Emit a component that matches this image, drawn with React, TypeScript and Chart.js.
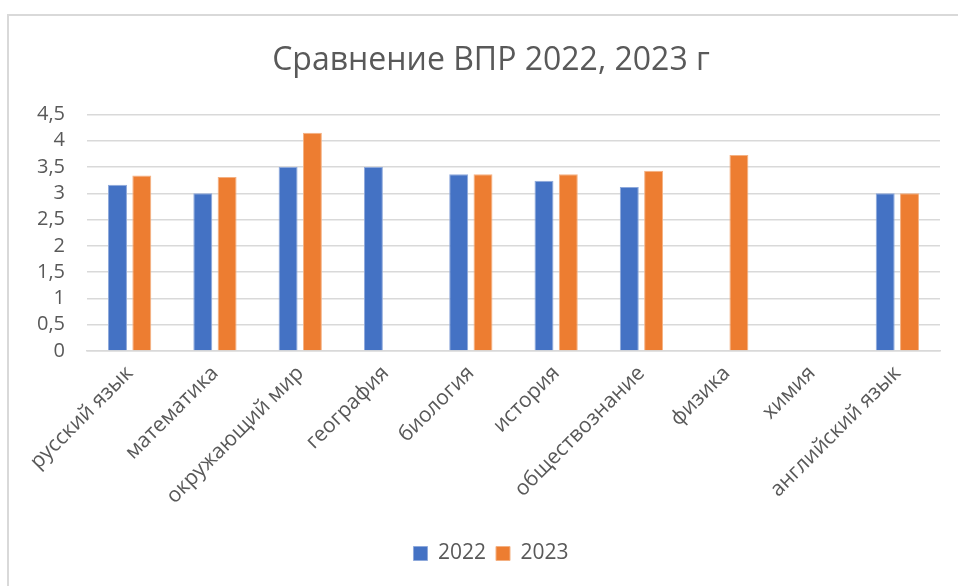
import React, { useEffect, useRef } from "react";
import { Chart, registerables } from "chart.js";

Chart.register(...registerables);

const categories = [
  "русский язык",
  "математика",
  "окружающий мир",
  "география",
  "биология",
  "история",
  "обществознание",
  "физика",
  "химия",
  "английский язык",
];
const values2022: (number | null)[] = [3.16, 3.0, 3.5, 3.5, 3.36, 3.24, 3.12, null, null, 3.0];
const values2023: (number | null)[] = [3.34, 3.31, 4.15, null, 3.36, 3.36, 3.43, 3.73, null, 3.0];
const titleText = "Сравнение ВПР 2022, 2023 г";

const FONT = "'Open Sans', 'DejaVu Sans', sans-serif";
const TEXT = "#595959";
const GRID = "#D9D9D9";

export default function App() {
  const ref = useRef<HTMLCanvasElement | null>(null);
  useEffect(() => {
    if (!ref.current) return;
    const chart = new Chart(ref.current, {
      type: "bar",
      data: {
        labels: categories,
        datasets: [
          {
            label: "2022",
            data: values2022,
            backgroundColor: "#4472C4",
            borderColor: "#8EA9DB",
            borderWidth: 1,
            categoryPercentage: 0.57,
            barPercentage: 0.78,
          },
          {
            label: "2023",
            data: values2023,
            backgroundColor: "#ED7D31",
            borderColor: "#F4B183",
            borderWidth: 1,
            categoryPercentage: 0.57,
            barPercentage: 0.78,
          },
        ],
      },
      options: {
        animation: false,
        responsive: false,
        maintainAspectRatio: false,
        layout: { padding: { left: 0, right: 2, top: 0, bottom: 12 } },
        plugins: {
          title: {
            display: true,
            text: titleText,
            color: TEXT,
            font: { family: FONT, size: 32, weight: "normal" },
            padding: { top: 42, bottom: 34 },
          },
          legend: {
            position: "bottom",
            labels: {
              color: TEXT,
              font: { family: FONT, size: 21 },
              boxWidth: 14,
              boxHeight: 14,
              padding: 10,
            },
          },
          tooltip: { enabled: false },
        },
        scales: {
          x: {
            grid: { display: false, drawTicks: false },
            border: { display: true, color: GRID, width: 1.5 },
            ticks: {
              color: TEXT,
              font: { family: FONT, size: 21 },
              minRotation: 45,
              maxRotation: 45,
              autoSkip: false,
              padding: 10,
            },
            afterFit: (scale: any) => {
              scale.height = 182;
            },
          },
          y: {
            min: 0,
            max: 4.5,
            grid: { color: GRID, lineWidth: 1.5, drawTicks: false },
            border: { display: false },
            ticks: {
              stepSize: 0.5,
              autoSkip: false,
              color: TEXT,
              font: { family: FONT, size: 20, lineHeight: 1 },
              padding: 22,
              callback: (v: any) => String(v).replace(".", ","),
            },
            afterFit: (scale: any) => {
              scale.width = 87;
            },
          },
          yRightSpace: {
            type: "linear",
            position: "right",
            display: true,
            grid: { display: false, drawTicks: false },
            border: { display: false },
            ticks: { display: false },
            afterFit: (scale: any) => {
              scale.width = 42;
            },
          },
        },
      },
    });
    return () => chart.destroy();
  }, []);

  return (
    <div>
      <div
        style={{
          position: "fixed",
          left: 0,
          top: 0,
          width: 984,
          height: 586,
          background: "#fff",
        }}
      >
        <canvas ref={ref} width={984} height={586} style={{ width: 984, height: 586, display: "block" }} />
      </div>
      <div
        style={{
          position: "fixed",
          left: 7,
          top: 14,
          width: 1000,
          height: 1000,
          borderLeft: "2px solid #D9D9D9",
          borderTop: "2px solid #D9D9D9",
          pointerEvents: "none",
        }}
      />
    </div>
  );
}
